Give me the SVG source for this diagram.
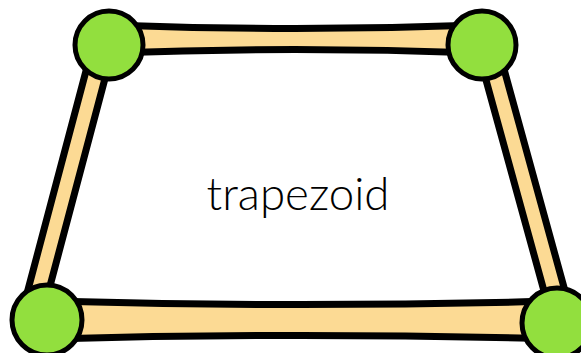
<svg xmlns="http://www.w3.org/2000/svg" width="581" height="353" viewBox="0 0 581 353">
<style>
.stick{fill:#FCDA94;stroke:#000;stroke-width:7;stroke-linejoin:round}
.ball{fill:#92DF3E;stroke:#000;stroke-width:5}
.lbl{font-family:Lato,"DejaVu Sans",sans-serif;font-weight:300;font-size:46px;fill:#000}
</style>
<rect width="581" height="353" fill="#fff"/>
<g id="connectors">
<path class="stick" d="M110,25 Q295,32 480,25 L480,53 Q295,46 110,53 Z"/>
<path class="stick" d="M50,301 Q300,308 555,301 L555,339 Q300,332 50,339 Z"/>
<path class="stick" d="M109.9,60 L47.6,295 L26.6,295 L88.9,60 Z"/>
<path class="stick" d="M480.5,60 L545.1,295 L566.1,295 L501.5,60 Z"/>
</g>
<g id="node-tl"><circle class="ball" cx="109" cy="45" r="34"/></g>
<g id="node-tr"><circle class="ball" cx="482" cy="45" r="34"/></g>
<g id="node-bl"><circle class="ball" cx="47" cy="320" r="35"/></g>
<g id="node-br"><circle class="ball" cx="557" cy="323" r="35"/></g>
<g id="label"><text class="lbl" x="298" y="210" text-anchor="middle" textLength="183" lengthAdjust="spacingAndGlyphs">trapezoid</text></g>
</svg>
